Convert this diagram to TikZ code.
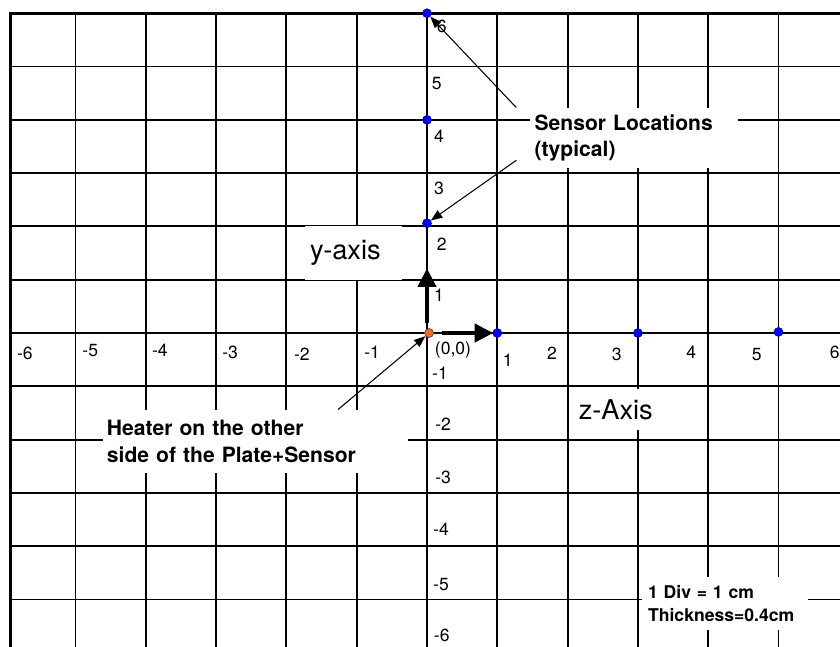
\documentclass[tikz,border=0pt]{standalone}
\usepackage{fontspec}
\setmainfont{TeX Gyre Heros}
\usetikzlibrary{arrows.meta}
\definecolor{sensorblue}{HTML}{0000FF}
\definecolor{heaterorange}{HTML}{F26B1D}

\begin{document}
\begin{tikzpicture}[x=1.406cm,y=1.066cm,
  gridline/.style={line width=1.1pt},
  border/.style={line width=1.6pt},
  tick/.style={font=\fontsize{10}{12}\selectfont, inner sep=1pt},
  axisname/.style={fill=white, font=\fontsize{15.5}{18}\selectfont, align=left, inner xsep=0.1cm, inner ysep=0pt},
  callout/.style={fill=white, font=\bfseries\fontsize{12}{15.3}\selectfont, align=left, inner ysep=0pt},
  sensor/.style={circle, fill=sensorblue, draw=sensorblue!60!black, line width=0.3pt, inner sep=0pt, minimum size=0.18cm},
  heaterdot/.style={circle, fill=heaterorange, draw=black!70, line width=0.4pt, inner sep=0pt, minimum size=0.18cm},
  axisarrow/.style={-{Triangle[length=10.5pt,width=10.5pt]}, line width=1.8pt},
  pointer/.style={-{Triangle[length=6.5pt,width=5pt]}, line width=0.6pt}]
\useasboundingbox (-6.074,-5.891) rectangle (5.875,6.248);

% grid
\foreach \gx in {-5,...,5}
  \draw[gridline] (\gx,6) -- (\gx,-5.891);
\foreach \gy in {-5,...,5}
  \draw[gridline] (-5.93,\gy) -- (5.875,\gy);
\draw[border] (5.875,6) -- (-5.93,6) -- (-5.93,-5.891);

% labels on the z axis
\foreach \lx/\ly/\lt [count=\li] in {-5.72/-0.39/-6, -4.79/-0.32/-5, -3.80/-0.32/-4, -2.80/-0.36/-3, -1.78/-0.39/-2, -0.78/-0.36/-1,
    1.15/-0.51/1, 1.78/-0.375/2, 2.70/-0.41/3, 3.76/-0.36/4, 4.69/-0.41/5, 5.80/-0.36/6}
  \node[tick] (zt\li) at (\lx,\ly) {\lt};
\node[tick] (orig) at (0.37,-0.32) {(0,0)};

% labels on the y axis
\foreach \lx/\ly/\lt [count=\li] in {0.21/5.76/6, 0.14/4.69/5, 0.17/3.70/4, 0.17/2.72/3, 0.21/1.67/2, 0.17/0.71/1,
    0.185/-0.75/-1, 0.23/-1.71/-2, 0.23/-2.70/-3, 0.20/-3.68/-4, 0.20/-4.71/-5, 0.21/-5.67/-6}
  \node[tick] (yt\li) at (\lx,\ly) {\lt};

% white boxes
\node[axisname, text width=1.74cm, minimum height=1.066cm] (yname) at (-1.045,1.5) {y-axis};
\node[axisname, text width=1.52cm, minimum height=0.82cm] (zname) at (2.70,-1.435) {z-Axis};
\node[callout, inner xsep=0.1cm, text width=3.96cm, minimum height=1.2cm] (sensors) at (2.94,3.66)
  {Sensor Locations\\(typical)};
\node[callout, inner xsep=0.08cm, text width=5.94cm, minimum height=1.26cm] (heater) at (-2.44,-2.035)
  {Heater on the other\\side of the Plate+Sensor};
\node[callout, font=\bfseries\fontsize{10}{13}\selectfont, inner xsep=0.12cm, text width=3.08cm, minimum height=1.06cm] (divs) at (4.24,-5.075)
  {1 Div = 1 cm\\Thickness=0.4cm};

% axis arrows
\draw[axisarrow] (0,0.19) -- (0,1.21);
\draw[axisarrow] (0.21,0) -- (0.94,0);

% sensors and heater
\node[sensor] (sy6) at (0,6) {};
\node[sensor] (sy4) at (0,4) {};
\node[sensor] (sy2) at (0,2.06) {};
\node[sensor] (sz1) at (1,0) {};
\node[sensor] (sz3) at (3,0) {};
\node[sensor] (sz5) at (5,0.02) {};
\node[heaterdot] (heat) at (0.03,0) {};

% pointers
\draw[pointer] ([xshift=-0.26cm]sensors.north west) -- ([shift={(0.12cm,-0.26cm)}]sy6);
\draw[pointer] ([shift={(-0.26cm,0.16cm)}]sensors.south west) -- ([shift={(0.06cm,0.14cm)}]sy2);
\draw[pointer] ([xshift=1.65cm]heater.north) -- ([shift={(-0.2cm,-0.2cm)}]heat);
\end{tikzpicture}
\end{document}
